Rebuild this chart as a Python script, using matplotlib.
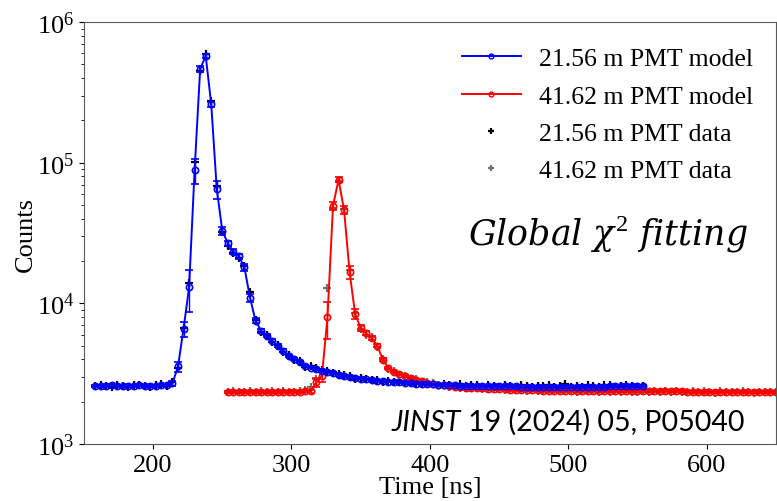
import numpy as np
import matplotlib
matplotlib.use('Agg')
import matplotlib.pyplot as plt
from matplotlib.lines import Line2D

plt.rcParams['font.family'] = 'Liberation Serif'
plt.rcParams['mathtext.fontset'] = 'custom'
plt.rcParams['mathtext.rm'] = 'Liberation Serif'
plt.rcParams['mathtext.it'] = 'DejaVu Serif:italic'

# bin centres [ns]
t_near = np.arange(158, 555, 4)
t_far = np.arange(254, 651, 4)

# 21.56 m PMT model
model_near = [2600, 2590, 2600, 2610, 2600, 2590, 2600, 2600, 2610, 2600, 2590, 2600, 2610, 2630,
              2700, 3560, 6600, 13000, 89000, 464000, 575000, 261000, 65000, 32800, 26700, 23300,
              21600, 18000, 11000, 7530, 6400, 5900, 5430, 5010, 4610, 4250, 4020, 3850, 3600, 3500,
              3420, 3300, 3260, 3180, 3100, 3040,
              2990, 2950, 2920, 2880, 2850, 2820, 2800, 2780, 2760, 2740, 2720, 2710, 2690, 2680,
              2670, 2650, 2640, 2630, 2620, 2610, 2600, 2600, 2590, 2590, 2580, 2580, 2580, 2570,
              2570, 2570, 2570, 2560, 2560, 2560, 2560, 2560, 2560, 2560, 2560, 2560, 2560, 2560,
              2560, 2560, 2560, 2560, 2560, 2570, 2570, 2570, 2570, 2570, 2570, 2570]
err_near = [40, 40, 40, 40, 40, 40, 40, 40, 40, 40, 40, 40, 40, 40,
            100, 300, 800, 4300, 18000, 20000, 15000, 10000, 9600, 2000, 1200, 1000, 800, 1000,
            700, 300, 200, 150, 120, 100, 90, 80, 70, 60, 60, 50, 50, 50, 50, 50, 50, 50,
            40, 40, 40, 40, 40, 40, 40, 40, 40, 40, 40, 40, 40, 40, 40, 40, 40, 40, 40, 40, 40,
            40, 40, 40, 40, 40, 40, 40, 40, 40, 40, 40, 40, 40, 40, 40, 40, 40, 40, 40, 40, 40,
            40, 40, 40, 40, 40, 40, 40, 40, 40, 40, 40, 40]
# 21.56 m PMT data
data_near = [2570, 2620, 2580, 2560, 2630, 2590, 2550, 2610, 2640, 2580, 2560, 2620, 2650, 2600,
             2750, 3500, 6700, 14000, 101000, 450000, 590000, 275000, 68000, 32000, 25500, 22800,
             21000, 18300, 12000, 7600, 6300, 6000, 5300, 5100, 4500, 4300, 3950, 3900, 3550, 3560,
             3450, 3350, 3310, 3200, 3150, 3080,
             3060, 2920, 2960, 2900, 2830, 2860, 2780, 2820, 2740, 2790, 2700, 2750, 2670, 2720,
             2650, 2700, 2610, 2680, 2640, 2600, 2650, 2580, 2630, 2610, 2560, 2620, 2600, 2550,
             2610, 2590, 2540, 2620, 2580, 2530, 2600, 2570, 2620, 2540, 2590, 2680, 2560, 2600,
             2530, 2620, 2570, 2550, 2610, 2640, 2560, 2600, 2630, 2580, 2550, 2600]

# 41.62 m PMT model
model_far = [2360, 2350, 2360, 2360, 2350, 2360, 2360, 2360, 2350, 2360, 2360, 2360, 2350, 2360, 2370,
             2380, 2750, 3060, 7940, 49400, 75700, 46100, 16600, 8400, 6680, 6120, 5670, 5000, 3980,
             3470, 3270, 3150, 3030, 2940, 2860, 2790, 2730,
             2680, 2640, 2610, 2580, 2560, 2540, 2520, 2510, 2500, 2490, 2480, 2470, 2460, 2450,
             2440, 2430, 2425, 2420, 2415, 2410, 2400, 2400, 2395, 2395, 2390, 2390, 2390, 2385,
             2385, 2385, 2380, 2380, 2380, 2380, 2375, 2375, 2375, 2375, 2370, 2370, 2370, 2370,
             2365, 2365, 2365, 2365, 2360, 2360, 2360, 2360, 2355, 2355, 2355, 2355, 2350, 2350,
             2350, 2350, 2350, 2345, 2345, 2345, 2340]
err_far = [40, 40, 40, 40, 40, 40, 40, 40, 40, 40, 40, 40, 40, 40, 40,
           60, 200, 300, 2330, 3000, 3000, 3000, 1700, 700, 300, 200, 150, 120, 100, 80, 60, 50,
           50, 40, 40, 40, 40,
           40, 40, 40, 40, 40, 40, 40, 40, 40, 40, 40, 40, 40, 40, 40, 40, 40, 40, 40, 40, 40,
           40, 40, 40, 40, 40, 40, 40, 40, 40, 40, 40, 40, 40, 40, 40, 40, 40, 40, 40, 40, 40,
           40, 40, 40, 40, 40, 40, 40, 40, 40, 40, 40, 40, 40, 40, 40, 40, 40, 40, 40, 40, 40]
# 41.62 m PMT data
data_far = [2340, 2380, 2330, 2360, 2400, 2340, 2370, 2330, 2390, 2350, 2380, 2330, 2360, 2400, 2420,
            2540, 2900, 3300, 12800, 48000, 74000, 47000, 17200, 8600, 6600, 6000, 5750, 4900, 4050,
            3420, 3300, 3100, 3060, 2900, 2880, 2760, 2750,
            2700, 2620, 2630, 2560, 2580, 2520, 2540, 2490, 2520, 2470, 2500, 2450, 2480, 2430,
            2460, 2410, 2450, 2400, 2440, 2390, 2420, 2380, 2410, 2370, 2400, 2380, 2360, 2410,
            2370, 2390, 2350, 2400, 2360, 2380, 2340, 2390, 2360, 2350, 2400, 2340, 2380, 2350,
            2390, 2330, 2370, 2360, 2340, 2390, 2330, 2370, 2350, 2320, 2380, 2340, 2360, 2330,
            2370, 2340, 2320, 2360, 2330, 2350, 2340]

fig = plt.figure(figsize=(7.77, 5.02), dpi=100)
ax = fig.add_axes([0.108, 0.1135, 0.8905, 0.8405])

ax.plot(t_near, data_near, '+', color='black', ms=6, mew=1.6, zorder=1)
ax.plot(t_far, data_far, '+', color='#707070', ms=6, mew=1.6, zorder=1)
ax.errorbar(t_near, model_near, yerr=err_near, fmt='o-', color='blue', ms=4.5, mfc='none',
            mew=1.2, lw=1.4, capsize=3, elinewidth=1.0, zorder=3)
ax.errorbar(t_far, model_far, yerr=err_far, fmt='o-', color='red', ms=4.5, mfc='none',
            mew=1.2, lw=1.4, capsize=3, elinewidth=1.0, zorder=2)

ax.set_yscale('log')
ax.set_ylim(1e3, 1e6)
ax.set_xlim(150, 650)
ax.set_xticks([200, 300, 400, 500, 600])
ax.tick_params(labelsize=19)
ax.set_xlabel('Time [ns]', fontsize=19, labelpad=0)
ax.set_ylabel('Counts', fontsize=19, labelpad=0)
for s in ax.spines.values():
    s.set_color('0.35')

handles = [
    Line2D([], [], color='blue', marker='o', ms=3.5, mfc='none', lw=1.4),
    Line2D([], [], color='red', marker='o', ms=3.5, mfc='none', lw=1.4),
    Line2D([], [], color='black', marker='+', ms=5, mew=1.6, ls='none'),
    Line2D([], [], color='#707070', marker='+', ms=5, mew=1.6, ls='none'),
]
labels = ['21.56 m PMT model', '41.62 m PMT model', '21.56 m PMT data', '41.62 m PMT data']
ax.legend(handles, labels, loc='upper right', frameon=False, fontsize=18.5,
          handlelength=2.3, handletextpad=0.7, labelspacing=0.56, bbox_to_anchor=(1.0, 0.995))

ax.text(0.758, 0.5, r'$Global\ \chi^{2}\ fitting$', transform=ax.transAxes, fontsize=25,
        ha='center', va='center')
jinst = ax.text(0.445, 0.052, 'JINST', transform=ax.transAxes, fontsize=20.5,
                family='Lato', style='italic', ha='left', va='center')
ax.annotate(' 19 (2024) 05, P05040', xy=(1, 0), xycoords=jinst, fontsize=20.5,
            family='Lato', ha='left', va='bottom')

fig.savefig('out.png', dpi=100)
